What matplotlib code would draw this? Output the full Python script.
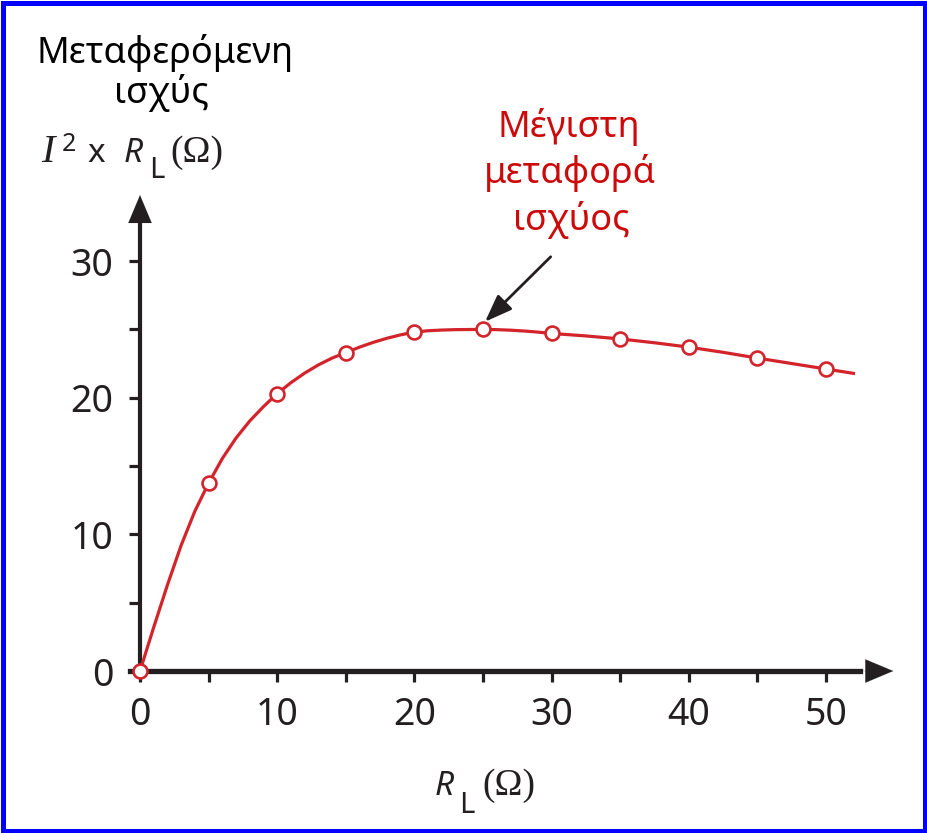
import matplotlib
matplotlib.use("Agg")
import matplotlib.pyplot as plt
from matplotlib.patches import Rectangle

# Data
r_points = [0, 5, 10, 15, 20, 25, 30, 35, 40, 45, 50]
p_points = [0, 13.75, 20.3, 23.3, 24.8, 25.0, 24.7, 24.3, 23.7, 22.9, 22.1]

r_curve = [0, 1, 2, 3, 4, 5, 6, 7, 8, 9, 10, 11, 12, 13, 14, 15, 16, 17, 18, 19, 20,
           21, 22, 23, 24, 25, 26, 27, 28, 29, 30, 32.5, 35, 37.5, 40, 42.5, 45, 47.5, 50, 52]
p_curve = [0, 3.2, 6.3, 9.2, 11.7, 13.75, 15.55, 17.05, 18.3, 19.35, 20.3,
           21.1, 21.8, 22.4, 22.9, 23.3, 23.7, 24.05, 24.35, 24.6, 24.8,
           24.9, 24.95, 24.98, 24.99, 25.0, 24.98, 24.94, 24.88, 24.8, 24.7,
           24.52, 24.3, 24.02, 23.7, 23.32, 22.9, 22.5, 22.1, 21.78]

x_ticks = [0, 5, 10, 15, 20, 25, 30, 35, 40, 45, 50]
x_ticklabels = ["0", "", "10", "", "20", "", "30", "", "40", "", "50"]
y_ticks = [0, 5, 10, 15, 20, 25, 30]
y_ticklabels = ["0", "", "10", "", "20", "", "30"]

title_lines = ["Μεταφερόμενη", "ισχύς"]
note_lines = ["Μέγιστη", "μεταφορά", "ισχύος"]

RED = "#d3242b"
TXTRED = "#cc0a0a"
DARK = "#231f20"
SANS = ["Noto Sans", "DejaVu Sans"]
SERIF = ["Liberation Serif", "STIXGeneral", "DejaVu Serif"]

W, H = 928, 833
fig = plt.figure(figsize=(W / 100, H / 100), dpi=100)
fig.patch.set_facecolor("white")


def ptext(x, y, s, **kw):
    """place text at pixel position (x from left, y = baseline from top)"""
    kw.setdefault("va", "baseline")
    kw.setdefault("ha", "left")
    return fig.text(x / W, 1 - y / H, s, **kw)


# blue frame
fig.add_artist(Rectangle((2.5 / W, 2.5 / H), 1 - 5 / W, 1 - 5 / H, transform=fig.transFigure,
                         fill=False, edgecolor="#0000ff", linewidth=3.6))

ax = fig.add_axes([100 / W, (H - 700) / H, 800 / W, 520 / H])
ax.set_xlim(-2.915, 55.39)
ax.set_ylim(-2.12, 35.93)
ax.patch.set_alpha(0)

for s in ["top", "right"]:
    ax.spines[s].set_visible(False)
ax.spines["left"].set_position(("data", 0))
ax.spines["bottom"].set_position(("data", 0))
ax.spines["left"].set_bounds(-0.1, 33.0)
ax.spines["bottom"].set_bounds(-0.7, 52.5)
ax.spines["left"].set_linewidth(3.0)
ax.spines["bottom"].set_linewidth(3.8)
ax.spines["left"].set_color(DARK)
ax.spines["bottom"].set_color(DARK)

# axis arrow heads
head = dict(arrowstyle="-|>,head_length=1.0,head_width=0.42", color=DARK, lw=0.1,
            shrinkA=0, shrinkB=0, mutation_scale=20)
ax.annotate("", xy=(0, 34.83), xytext=(0, 32.0), arrowprops=head, annotation_clip=False)
ax.annotate("", xy=(54.9, 0), xytext=(52.0, 0), arrowprops=head, annotation_clip=False)

ax.set_xticks(x_ticks)
ax.set_xticklabels(x_ticklabels)
ax.set_yticks(y_ticks)
ax.set_yticklabels(y_ticklabels)
ax.tick_params(axis="both", direction="out", length=8, width=2.3, color=DARK,
               labelsize=27, labelcolor=DARK)
for lab in ax.get_xticklabels() + ax.get_yticklabels():
    lab.set_family(SANS)
ax.tick_params(axis="x", pad=10)
ax.tick_params(axis="y", pad=11)

ax.plot(r_curve, p_curve, color=RED, lw=2.3, zorder=3, clip_on=False,
        solid_joinstyle="round")
ax.plot(r_points, p_points, "o", ms=10, mfc="white", mec=RED, mew=1.9, zorder=4, clip_on=False)

# annotation text (red) and arrow
ptext(569, 137, note_lines[0], ha="center", color=TXTRED, fontsize=26, family=SANS)
ptext(570, 183, note_lines[1], ha="center", color=TXTRED, fontsize=26, family=SANS)
ptext(571, 230, note_lines[2], ha="center", color=TXTRED, fontsize=26, family=SANS)
ax.annotate("", xy=(25.15, 25.56), xytext=(29.93, 30.31),
            arrowprops=dict(arrowstyle="-|>,head_length=1.2,head_width=0.45", color=DARK,
                            lw=2.0, shrinkA=0, shrinkB=0, mutation_scale=14),
            annotation_clip=False)

# y-axis title
ptext(165, 63, title_lines[0], ha="center", color="black", fontsize=26, family=SANS)
ptext(161, 103, title_lines[1], ha="center", color="black", fontsize=26, family=SANS)
ptext(41, 162, "I", color=DARK, fontsize=29, family=SERIF, style="italic")
ptext(62, 151, "2", color=DARK, fontsize=18, family=SANS)
ptext(87, 162, "x", color=DARK, fontsize=24, family=SANS)
ptext(124, 162, "R", color=DARK, fontsize=24, family=SANS, style="italic")
ptext(149, 178, "L", color=DARK, fontsize=21, family=SANS)
ptext(170, 162, "(Ω)", color=DARK, fontsize=27, family=SERIF)

# x-axis title
ptext(435, 795, "R", color=DARK, fontsize=24, family=SANS, style="italic")
ptext(459, 813, "L", color=DARK, fontsize=21, family=SANS)
ptext(482, 795, "(Ω)", color=DARK, fontsize=27, family=SERIF)

fig.savefig("out.png", dpi=100, facecolor="white")
